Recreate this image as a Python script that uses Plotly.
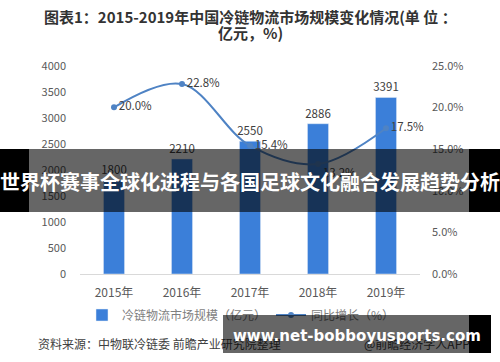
import plotly.graph_objects as go

years = ["2015年", "2016年", "2017年", "2018年", "2019年"]
market_size = [1800, 2210, 2550, 2886, 3391]
growth = [20.0, 22.8, 15.4, 13.2, 17.5]
growth_labels = ["20.0%", "22.8%", "15.4%", "13.2%", "17.5%"]
growth_pos = ["middle right", "middle right", "middle right", "bottom right", "middle right"]
title_lines = ["图表1：2015-2019年中国冷链物流市场规模变化情况(单 位 ：", "亿元，%)"]

W, H = 500, 362
def py(px):  # pixel from top -> paper y
    return (H - px) / H

FONT = "Noto Sans CJK SC"

fig = go.Figure()
fig.add_trace(go.Bar(
    x=years, y=market_size, name="冷链物流市场规模（亿元）",
    marker_color="#3b7fd9", width=0.31,
    text=[str(v) for v in market_size], textposition="outside",
    constraintext="none",
    textfont=dict(size=11.5, color="#404040", family=FONT),
    cliponaxis=False,
))
fig.add_trace(go.Scatter(
    x=years, y=growth, name="同比增长（%）", yaxis="y2",
    mode="lines+markers+text",
    line=dict(color="#4f83c4", width=2, shape="spline"),
    marker=dict(size=6, color="#4f83c4"),
    text=growth_labels, textposition=growth_pos,
    textfont=dict(size=11.5, color="#404040", family=FONT),
    cliponaxis=False,
))

fig.update_layout(
    width=W, height=H, margin=dict(l=0, r=0, t=0, b=0, autoexpand=False),
    paper_bgcolor="white", plot_bgcolor="white",
    font=dict(family=FONT, color="#595959"),
    bargap=0.69,
    xaxis=dict(domain=[80/W, 420/W], type="category", showline=True,
               linecolor="#d9d9d9", linewidth=1, ticks="", automargin=False,
               tickfont=dict(size=12, color="#595959"), ticklabelstandoff=8,
               showgrid=False),
    yaxis=dict(domain=[py(274), py(65.7)], range=[0, 4000], dtick=500,
               showgrid=False, zeroline=False, showline=False, automargin=False,
               tickfont=dict(size=11, color="#595959"), ticklabelstandoff=13),
    yaxis2=dict(overlaying="y", side="right", anchor="x", range=[0, 25], dtick=5,
                tickformat=".1f", ticksuffix="%", showgrid=False, zeroline=False,
                showline=False, tickfont=dict(size=11, color="#595959"),
                ticklabelstandoff=11, automargin=False),
    legend=dict(orientation="h", x=82/W, xanchor="left", y=py(315), yanchor="middle",
                font=dict(size=12, color="#7f7f7f"), bgcolor="rgba(0,0,0,0)",
                itemwidth=30, tracegroupgap=0),
    showlegend=True,
)

# Title (two lines, tight spacing)
for line_text, yc in zip(title_lines, [16.7, 32.5]):
    fig.add_annotation(
        text="<b>" + line_text + "</b>",
        xref="paper", yref="paper", x=0.5, y=py(yc), xanchor="center", yanchor="middle",
        showarrow=False, font=dict(size=15, color="#333333", family=FONT),
    )

# Source text
fig.add_annotation(text="资料来源：中物联冷链委 前瞻产业研究院整理", xref="paper", yref="paper",
                   x=36/W, y=py(343), xanchor="left", yanchor="middle", showarrow=False,
                   font=dict(size=12, color="#404040", family=FONT))
fig.add_annotation(text="@前瞻经济学人APP", xref="paper", yref="paper",
                   x=362/W, y=py(343), xanchor="left", yanchor="middle", showarrow=False,
                   font=dict(size=12, color="#404040", family=FONT))

# Big banner overlay
fig.add_shape(type="rect", xref="paper", yref="paper", x0=0, x1=29/W, y0=py(212), y1=py(149),
              fillcolor="black", line_width=0, layer="above")
fig.add_shape(type="rect", xref="paper", yref="paper", x0=29/W, x1=469/W, y0=py(212), y1=py(149),
              fillcolor="rgba(0,0,0,0.6)", line_width=0, layer="above")
fig.add_shape(type="rect", xref="paper", yref="paper", x0=469/W, x1=1, y0=py(212), y1=py(149),
              fillcolor="black", line_width=0, layer="above")
fig.add_annotation(text="<b>世界杯赛事全球化进程与各国足球文化融合发展趋势分析</b>",
                   xref="paper", yref="paper", x=0.5, y=py(181), xanchor="center", yanchor="middle",
                   showarrow=False, font=dict(size=20, color="white", family=FONT))

# Website box overlay
fig.add_annotation(text=" ", xref="paper", yref="paper", x=(223 + 469) / 2 / W, y=py(334),
                   xanchor="center", yanchor="middle", showarrow=False, width=246, height=38,
                   bgcolor="rgba(0,0,0,0.6)", borderpad=0, borderwidth=0)
fig.add_annotation(text=" ", xref="paper", yref="paper", x=(469 + 491) / 2 / W, y=py(334),
                   xanchor="center", yanchor="middle", showarrow=False, width=22, height=38,
                   bgcolor="black", borderpad=0, borderwidth=0)
fig.add_annotation(text="<b>www.net-bobboyusports.com</b>", xref="paper", yref="paper",
                   x=357/W, y=py(336), xanchor="center", yanchor="middle", showarrow=False,
                   font=dict(size=15, color="white", family="DejaVu Sans"))

fig.write_html("out.html")
